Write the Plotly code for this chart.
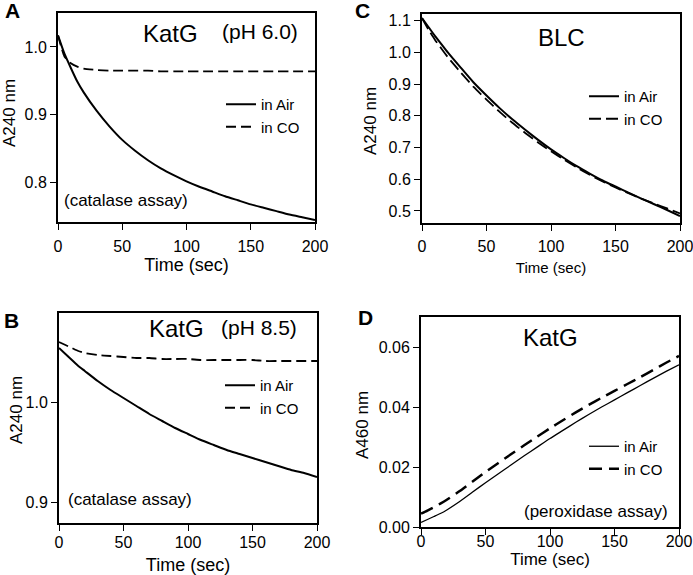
import plotly.graph_objects as go

time_s = [0, 5, 10, 15, 20, 30, 40, 50, 60, 70, 80, 90, 100, 110, 120, 130, 140, 150, 160, 170, 180, 190, 200]

a_air = [1.017, 0.990, 0.969, 0.949, 0.933, 0.906, 0.883, 0.863, 0.847, 0.833, 0.821, 0.811, 0.802, 0.794, 0.787, 0.780, 0.774, 0.768, 0.763, 0.758, 0.753, 0.749, 0.745]
a_co = [1.017, 0.986, 0.976, 0.971, 0.968, 0.966, 0.965, 0.965, 0.965, 0.965, 0.964, 0.964, 0.964, 0.964, 0.964, 0.964, 0.964, 0.964, 0.964, 0.964, 0.964, 0.964, 0.964]

c_air = [1.108, 1.080, 1.052, 1.026, 1.000, 0.952, 0.905, 0.864, 0.825, 0.789, 0.756, 0.724, 0.694, 0.667, 0.641, 0.618, 0.596, 0.577, 0.558, 0.539, 0.521, 0.503, 0.484]
c_co = [1.108, 1.072, 1.040, 1.012, 0.985, 0.937, 0.891, 0.851, 0.813, 0.778, 0.746, 0.716, 0.688, 0.662, 0.637, 0.614, 0.593, 0.574, 0.556, 0.539, 0.523, 0.508, 0.492]

b_air = [1.054, 1.048, 1.042, 1.036, 1.031, 1.021, 1.012, 1.004, 0.996, 0.988, 0.981, 0.974, 0.968, 0.962, 0.957, 0.952, 0.948, 0.944, 0.940, 0.936, 0.932, 0.929, 0.925]
b_co = [1.060, 1.057, 1.054, 1.051, 1.049, 1.047, 1.046, 1.045, 1.044, 1.044, 1.043, 1.043, 1.043, 1.042, 1.042, 1.042, 1.042, 1.042, 1.041, 1.041, 1.041, 1.041, 1.041]

d_air = [0.0015, 0.0025, 0.0035, 0.0045, 0.0057, 0.0085, 0.0117, 0.0148, 0.0178, 0.0208, 0.0238, 0.0267, 0.0296, 0.0323, 0.0350, 0.0376, 0.0401, 0.0425, 0.0449, 0.0473, 0.0497, 0.0520, 0.0542]
d_co = [0.0045, 0.0055, 0.0066, 0.0078, 0.0091, 0.0120, 0.0152, 0.0184, 0.0214, 0.0244, 0.0273, 0.0302, 0.0330, 0.0357, 0.0383, 0.0408, 0.0432, 0.0455, 0.0478, 0.0501, 0.0525, 0.0549, 0.0572]

x_ticks = [0, 50, 100, 150, 200]
FONT = "Arial, Liberation Sans, sans-serif"
W, H = 693, 575
NB = "\u00a0"

def px_x(p):
    return p / W

def px_y(p):
    return 1 - p / H

fig = go.Figure()

# suffix, x px, y px, y range, y ticks, fmt, air, co, legend, air width, co width, co dash,
# x-title size, x ticklabel standoff, x-title standoff, y tick suffix
panels = [
    ("", (58, 315), (13, 222), [0.742, 1.05], [0.8, 0.9, 1.0], ".1f", a_air, a_co, "legend",
     2.0, 1.8, "10px,5px", 18, 3, 4, ""),
    ("2", (422, 680), (14, 223), [0.462, 1.121], [0.5, 0.6, 0.7, 0.8, 0.9, 1.0, 1.1], ".1f", c_air, c_co, "legend2",
     2.0, 1.8, "12px,5px", 15, 2, 8, NB * 3),
    ("3", (59, 317), (313, 523), [0.879, 1.089], [0.9, 1.0], ".1f", b_air, b_co, "legend3",
     2.0, 1.8, "10px,5px", 18, -2, 11, ""),
    ("4", (421, 679), (317, 527), [0, 0.0702], [0.0, 0.02, 0.04, 0.06], ".2f", d_air, d_co, "legend4",
     1.3, 2.5, "13px,7px", 17, -7, 0, ""),
]

layout_axes = {}
for (suf, (x0, x1), (y0, y1), yr, yt, fmt, air, co, leg, wa, wc, dsh,
     xts, xtls, xso, ysfx) in panels:
    xa = "x" + suf
    ya = "y" + suf
    fig.add_trace(go.Scatter(x=time_s, y=air, mode="lines", name="in Air",
                             line=dict(color="black", width=wa, shape="spline", smoothing=0.5),
                             xaxis=xa, yaxis=ya, legend=leg))
    fig.add_trace(go.Scatter(x=time_s, y=co, mode="lines", name="in CO",
                             line=dict(color="black", width=wc, dash=dsh, shape="spline", smoothing=0.5),
                             xaxis=xa, yaxis=ya, legend=leg))
    common = dict(showline=True, linewidth=2, linecolor="black", mirror=True,
                  ticks="outside", ticklen=6, tickwidth=1, tickcolor="black", automargin=False,
                  ticklabeloverflow="allow",
                  showgrid=False, zeroline=False, tickfont=dict(family=FONT, size=16, color="black"))
    layout_axes["xaxis" + suf] = dict(common, domain=[px_x(x0), px_x(x1)], range=[0, 200],
                                       tickvals=x_ticks, anchor=ya, ticklabelstandoff=xtls,
                                       title=dict(text="Time (sec)", font=dict(family=FONT, size=xts, color="black"), standoff=xso))
    layout_axes["yaxis" + suf] = dict(common, domain=[px_y(y1), px_y(y0)], range=yr,
                                       tickvals=yt, tickformat=fmt, anchor=xa, ticksuffix=ysfx)

fig.update_layout(**layout_axes)

def leg(xp, yp):
    return dict(x=px_x(xp), y=px_y(yp), xanchor="left", yanchor="top", bgcolor="rgba(0,0,0,0)",
                font=dict(family=FONT, size=15, color="black"), itemwidth=30, tracegroupgap=0)

fig.update_layout(
    width=W, height=H, margin=dict(l=0, r=0, t=0, b=0),
    paper_bgcolor="white", plot_bgcolor="white", showlegend=True,
    legend=leg(221, 88),
    legend2=leg(584, 80),
    legend3=leg(220, 369),
    legend4=leg(584, 430),
)

ann = []
def txt(text, xp, yp, size, bold=False, xanchor="center", angle=0):
    ann.append(dict(text=("<b>%s</b>" % text) if bold else text, x=px_x(xp), y=px_y(yp),
                    xref="paper", yref="paper", showarrow=False, xanchor=xanchor, yanchor="middle",
                    textangle=angle, font=dict(family=FONT, size=size, color="black")))

txt("A", 3, 10, 21, bold=True, xanchor="left")
txt("C", 353, 11, 21, bold=True, xanchor="left")
txt("B", 2, 320, 21, bold=True, xanchor="left")
txt("D", 356, 317, 21, bold=True, xanchor="left")

txt("KatG", 170, 33, 24)
txt("(pH 6.0)", 260, 32, 21)
txt("BLC", 561, 37, 24)
txt("KatG", 176, 328, 24)
txt("(pH 8.5)", 259, 327, 21)
txt("KatG", 550, 337, 24)

txt("(catalase assay)", 62, 200, 17, xanchor="left")
txt("(catalase assay)", 66, 499, 17, xanchor="left")
txt("(peroxidase assay)", 522, 511, 17, xanchor="left")

txt("A240 nm", 9, 113, 17, angle=-90)
txt("A240 nm", 371, 121, 17, angle=-90)
txt("A240 nm", 16, 410, 17, angle=-90)
txt("A460 nm", 362, 425, 17, angle=-90)

fig.update_layout(annotations=ann)
fig.write_html("out.html", post_script="document.body.style.margin='0';",
               config={"displayModeBar": False})
